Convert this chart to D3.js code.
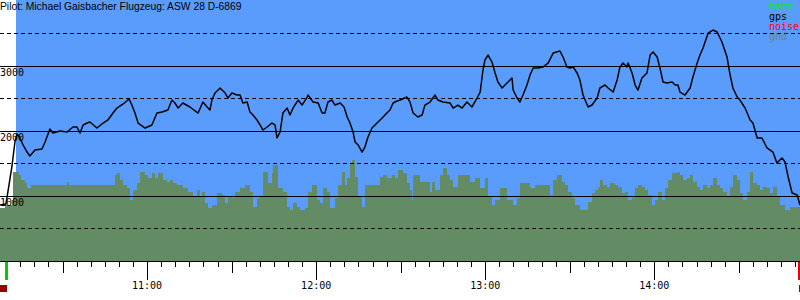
<!DOCTYPE html>
<html><head><meta charset="utf-8">
<script src="https://cdn.jsdelivr.net/npm/d3@7"></script>
<style>html,body{margin:0;padding:0;background:#fff;}svg{display:block;}</style>
</head><body>
<script>
// ---- data (time in minutes after 10:00, altitude in m) ----
const title = "Pilot: Michael Gaisbacher Flugzeug: ASW 28 D-6869";
const legendLabels = ["baro", "gps", "noise", "gnd"];
const yTickSolid = [1000, 2000, 3000];
const yTickDashed = [500, 1500, 2500, 3500];
const hourTicks = [60, 120, 180, 240];
const hourLabels = ["11:00", "12:00", "13:00", "14:00"];
const takeoffTime = 10.1;
const landingTime = 291.4;

const gpsTime = [
  7.8, 9.9, 11.0, 12.1, 13.1, 13.8, 14.5, 16.0, 17.4, 18.4,
  20.2, 22.7, 23.8, 25.5, 26.6, 29.1, 31.6, 33.7, 35.1, 36.2,
  37.3, 38.7, 39.7, 42.2, 44.4, 46.1, 47.9, 49.3, 51.5, 53.6,
  54.6, 55.7, 56.8, 59.3, 61.7, 63.5, 65.3, 67.4, 68.8, 69.9,
  71.0, 72.7, 75.2, 78.1, 79.8, 81.3, 82.3, 83.0, 84.1, 85.9,
  86.6, 87.7, 88.7, 90.1, 91.9, 93.0, 94.0, 95.5, 96.5, 97.6,
  99.0, 100.1, 101.1, 102.6, 104.3, 105.4, 106.1, 107.2, 108.2, 109.7,
  110.7, 111.8, 113.6, 115.0, 116.8, 117.1, 118.9, 120.7, 122.1, 123.1,
  124.2, 125.6, 126.7, 128.5, 129.9, 131.0, 132.0, 133.1, 133.8, 134.9,
  136.3, 137.3, 138.4, 139.8, 141.6, 143.4, 145.1, 146.2, 147.3, 148.7,
  149.8, 152.2, 153.3, 154.4, 156.1, 157.6, 158.6, 160.4, 162.2, 163.2,
  165.0, 167.5, 168.6, 170.3, 171.8, 173.5, 175.3, 177.1, 178.2, 179.2,
  179.9, 181.0, 182.4, 183.5, 184.5, 186.0, 187.0, 188.1, 189.5, 189.9,
  191.3, 192.3, 193.4, 194.8, 195.9, 197.0, 198.7, 200.5, 202.3, 204.1,
  206.5, 207.6, 209.0, 210.1, 211.2, 212.6, 213.6, 214.7, 216.5, 217.9,
  219.7, 220.7, 222.5, 223.6, 225.4, 226.8, 227.8, 228.9, 230.3, 230.7,
  232.1, 233.2, 234.2, 235.6, 237.4, 238.5, 239.6, 241.0, 242.0, 243.1,
  244.5, 246.3, 247.4, 248.4, 249.1, 250.9, 252.7, 253.7, 255.2, 256.2,
  257.3, 259.1, 260.8, 262.3, 264.0, 265.8, 266.9, 267.9, 269.4, 270.4,
  272.2, 274.0, 275.0, 276.5, 278.2, 280.0, 282.1, 283.5, 285.3, 286.4,
  287.5, 288.9, 290.7, 291.7
];
const gpsAlt = [
  854, 869, 1162, 1469, 1823, 1946, 1915, 1777, 1669, 1608,
  1700, 1715, 1823, 2023, 1962, 1992, 1977, 2054, 2054, 1962,
  2085, 2115, 2131, 2038, 2115, 2162, 2269, 2346, 2408, 2485,
  2392, 2269, 2115, 2038, 2085, 2269, 2285, 2315, 2469, 2423,
  2346, 2423, 2362, 2269, 2438, 2362, 2315, 2469, 2577, 2654,
  2623, 2577, 2500, 2577, 2546, 2546, 2423, 2438, 2285, 2238,
  2162, 2085, 2008, 2054, 2115, 2085, 1885, 1977, 2269, 2346,
  2238, 2346, 2469, 2392, 2515, 2546, 2438, 2423, 2269, 2269,
  2438, 2469, 2392, 2423, 2362, 2208, 2115, 1977, 1823, 1777,
  1669, 1746, 1900, 2038, 2115, 2192, 2269, 2315, 2423, 2454,
  2469, 2515, 2438, 2269, 2208, 2238, 2392, 2438, 2546, 2469,
  2438, 2423, 2346, 2392, 2346, 2438, 2362, 2500, 2592, 2931,
  3085, 3161, 3054, 2885, 2746, 2654, 2700, 2746, 2808, 2623,
  2500, 2438, 2546, 2700, 2854, 2962, 2962, 2977, 3038, 3192,
  3223, 3131, 2977, 2962, 2977, 2885, 2777, 2546, 2362, 2392,
  2500, 2654, 2700, 2654, 2592, 2777, 2977, 3038, 2977, 3038,
  2885, 2700, 2623, 2808, 2885, 3161, 3208, 3131, 2962, 2746,
  2731, 2746, 2700, 2700, 2592, 2546, 2654, 2823, 3038, 3161,
  3269, 3500, 3546, 3515, 3362, 3131, 2854, 2654, 2515, 2469,
  2346, 2162, 2115, 1885, 1885, 1731, 1669, 1500, 1577, 1515,
  1285, 1038, 1008, 854
];

const gndTime = [
  7.8, 9.6, 12.1, 12.4, 14.5, 15.3, 16.7, 17.4, 18.8, 31.6,
  32.3, 48.6, 49.3, 50.4, 51.5, 52.9, 53.9, 55.0, 56.4, 57.5,
  59.3, 60.3, 61.7, 62.8, 63.9, 65.6, 67.1, 68.1, 69.2, 70.6,
  72.7, 74.5, 76.3, 77.7, 78.8, 79.5, 80.6, 81.6, 83.0, 84.8,
  86.6, 87.7, 88.7, 90.1, 91.2, 93.0, 94.8, 96.5, 97.6, 99.0,
  100.1, 101.1, 102.9, 104.3, 104.7, 106.5, 108.2, 109.7, 110.7, 111.8,
  113.2, 114.3, 116.0, 117.1, 118.5, 120.3, 121.4, 122.4, 123.8, 124.9,
  126.7, 127.8, 129.2, 130.2, 131.0, 132.0, 132.7, 133.8, 134.9, 136.3,
  137.3, 142.7, 143.7, 145.1, 146.9, 148.0, 149.0, 150.8, 152.2, 153.3,
  154.0, 154.4, 156.9, 160.4, 161.1, 162.2, 164.0, 165.0, 166.4, 167.5,
  168.6, 170.3, 174.6, 176.4, 178.2, 179.9, 181.0, 182.4, 183.5, 185.3,
  187.7, 189.9, 191.3, 192.3, 195.9, 197.7, 199.4, 203.0, 204.1, 205.5,
  207.3, 208.3, 209.4, 210.8, 211.9, 213.6, 216.5, 217.9, 219.0, 220.0,
  220.7, 221.8, 223.2, 224.3, 226.1, 227.1, 228.5, 229.6, 230.7, 232.1,
  233.2, 234.2, 235.6, 236.7, 237.8, 239.2, 240.3, 241.3, 242.7, 243.8,
  244.9, 246.3, 248.1, 249.1, 250.2, 251.6, 252.7, 253.7, 255.2, 256.2,
  257.3, 258.7, 259.8, 260.8, 262.3, 263.3, 264.4, 265.8, 266.9, 267.9,
  269.4, 270.4, 271.5, 272.9, 274.0, 275.0, 276.5, 277.5, 278.6, 280.0,
  281.1, 282.1, 283.5, 284.6, 286.4, 288.2, 291.7
];
const gndAlt = [
  808, 854, 931, 1362, 1315, 1238, 1192, 1115, 1162, 1208,
  1162, 1315, 1346, 1238, 1162, 1115, 931, 1085, 1192, 1362,
  1315, 1269, 1346, 1269, 1346, 1238, 1208, 1238, 1192, 1162,
  1115, 1054, 977, 1085, 977, 1054, 885, 808, 854, 1038,
  1008, 885, 977, 962, 1054, 1115, 1162, 1054, 823, 962,
  977, 1362, 1192, 1346, 1469, 1115, 1054, 823, 777, 885,
  823, 777, 808, 1054, 1162, 931, 885, 1115, 1054, 808,
  962, 1162, 1362, 1162, 1269, 1500, 1546, 1285, 977, 823,
  1162, 1285, 1315, 1269, 1315, 1269, 1392, 1346, 1192, 1085,
  931, 1315, 1208, 1054, 1208, 1085, 1315, 1423, 1315, 1238,
  1131, 1315, 1208, 1269, 1115, 1269, 977, 854, 931, 1115,
  931, 854, 962, 1192, 1115, 1162, 1162, 1008, 1238, 1315,
  1208, 1162, 1054, 962, 854, 777, 900, 1038, 1085, 1131,
  1238, 1162, 1131, 1192, 1162, 1131, 1038, 1054, 931, 962,
  1115, 1162, 1131, 1085, 1008, 854, 931, 1054, 931, 1115,
  1238, 1346, 1362, 1315, 1238, 1269, 1315, 1208, 1131, 1085,
  1162, 1115, 1162, 1269, 1162, 1115, 1054, 977, 1131, 1315,
  1238, 1038, 931, 1054, 1362, 1192, 1162, 1085, 1131, 1115,
  1038, 1131, 977, 854, 777, 823, 746
];

// ---- drawing ----
const W = 800, H = 300;
const skyColor = "#5a9cfc";
const gndColor = "#648c64";
const x = d3.scaleLinear().domain([7.8, 291.7]).range([0, W]);
const y = d3.scaleLinear().domain([0, 4008]).range([260.5, 0]);
const baseY = 261;

const svg = d3.select("body").append("svg").attr("width", W).attr("height", H);
svg.append("rect").attr("width", W).attr("height", H).attr("fill", "#fff");
svg.append("rect").attr("x", 16).attr("y", 0).attr("width", W - 16).attr("height", baseY).attr("fill", skyColor);

const gnd = gndTime.map((t, i) => ({t, v: gndAlt[i]}));
svg.append("path").datum(gnd)
  .attr("d", d3.area().curve(d3.curveStepAfter).x(d => x(d.t)).y0(baseY).y1(d => y(d.v)))
  .attr("fill", gndColor).attr("shape-rendering", "crispEdges");

const grid = svg.append("g").attr("shape-rendering", "crispEdges");
grid.selectAll("line.s").data(yTickSolid).join("line")
  .attr("x1", 0).attr("x2", W).attr("y1", d => Math.round(y(d)) + 0.5).attr("y2", d => Math.round(y(d)) + 0.5)
  .attr("stroke", "#000").attr("stroke-width", 1);
grid.selectAll("line.d").data(yTickDashed).join("line")
  .attr("x1", 0).attr("x2", W).attr("y1", d => Math.round(y(d)) + 0.5).attr("y2", d => Math.round(y(d)) + 0.5)
  .attr("stroke", "#000").attr("stroke-width", 1).attr("stroke-dasharray", "4,3");

svg.selectAll("text.ylab").data(yTickSolid).join("text")
  .attr("x", 0).attr("y", d => y(d) + 10)
  .attr("font-family", "DejaVu Sans Mono").attr("font-size", 10).attr("fill", "#000")
  .text(d => d);

const gps = gpsTime.map((t, i) => ({t, v: gpsAlt[i]}));
svg.append("path").datum(gps)
  .attr("d", d3.line().x(d => x(d.t)).y(d => y(d.v)))
  .attr("fill", "none").attr("stroke", "#000").attr("stroke-width", 1.5).attr("stroke-linejoin", "round");

// x axis
const ax = svg.append("g").attr("shape-rendering", "crispEdges");
ax.append("line").attr("x1", 0).attr("x2", W).attr("y1", baseY + 0.5).attr("y2", baseY + 0.5).attr("stroke", "#000");
const tickVals = d3.range(10, 292, 5);
ax.selectAll("line.t").data(tickVals).join("line")
  .attr("x1", d => Math.round(x(d)) + 0.5).attr("x2", d => Math.round(x(d)) + 0.5)
  .attr("y1", baseY).attr("y2", d => baseY + (d % 60 === 0 ? 19 : d % 30 === 0 ? 12 : 6))
  .attr("stroke", "#000");
svg.selectAll("text.xlab").data(hourTicks).join("text")
  .attr("x", d => x(d)).attr("y", 289).attr("text-anchor", "middle")
  .attr("font-family", "DejaVu Sans Mono").attr("font-size", 10).attr("fill", "#000")
  .text((d, i) => hourLabels[i]);

// takeoff / landing markers
svg.append("rect").attr("x", Math.round(x(takeoffTime)) - 1).attr("y", 262).attr("width", 3).attr("height", 18).attr("fill", "#00cc00");
svg.append("rect").attr("x", 0).attr("y", 285).attr("width", 7).attr("height", 7).attr("fill", "#990000");
svg.append("rect").attr("x", Math.round(x(landingTime)) - 1).attr("y", 262).attr("width", 3).attr("height", 18).attr("fill", "#ee0000");
svg.append("rect").attr("x", Math.round(x(landingTime))).attr("y", 285).attr("width", 7).attr("height", 7).attr("fill", "#990000");

// title
svg.append("text").attr("x", 0).attr("y", 9.5)
  .attr("font-family", "Liberation Sans, Arial, sans-serif").attr("font-size", 10.3).attr("fill", "#000")
  .text(title);

// legend
const legColors = ["#00ee00", "#000000", "#ff0000", gndColor];
svg.selectAll("text.leg").data(legendLabels).join("text")
  .attr("x", 769).attr("y", (d, i) => 9.5 + i * 10)
  .attr("font-family", "DejaVu Sans Mono").attr("font-size", 10)
  .attr("fill", (d, i) => legColors[i])
  .text(d => d);
</script>
</body></html>
